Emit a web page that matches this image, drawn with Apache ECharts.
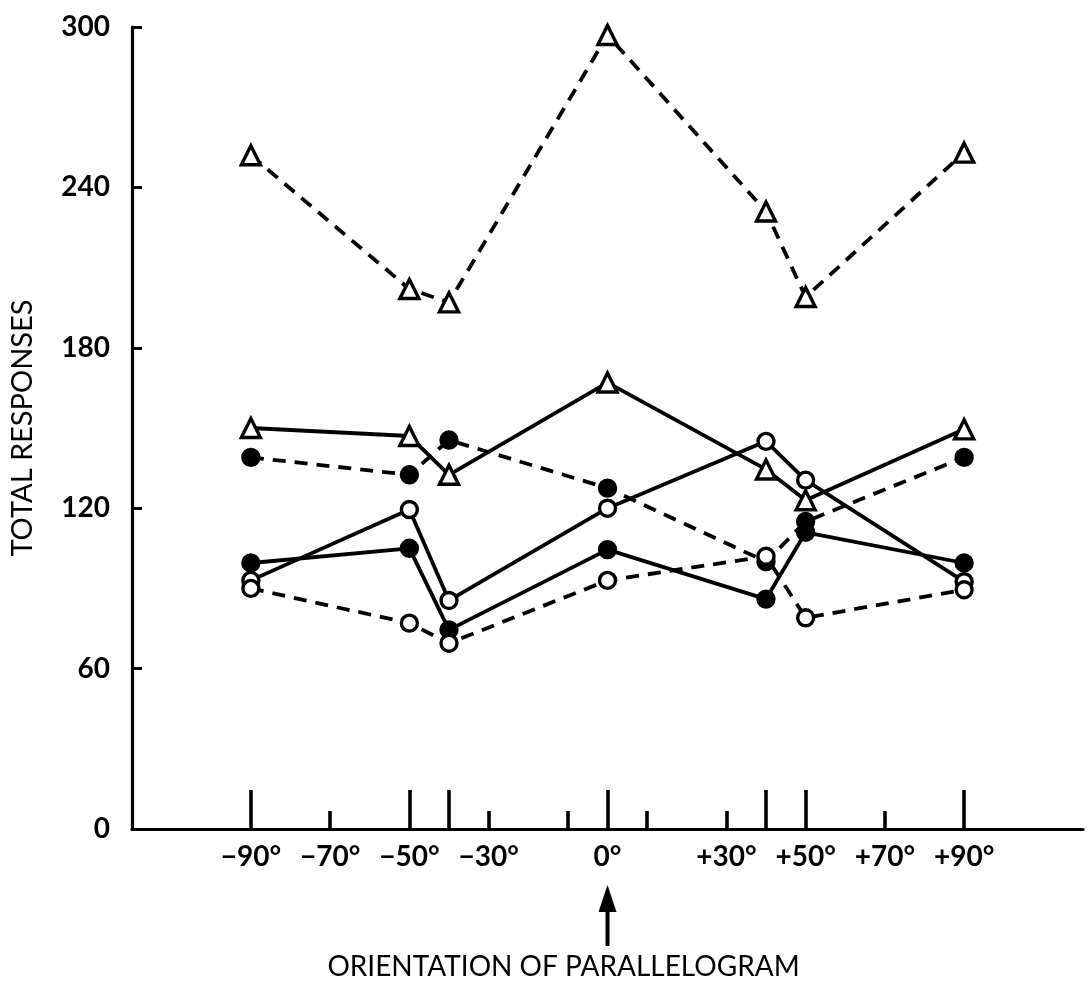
<!DOCTYPE html>
<html>
<head>
<meta charset="utf-8">
<script src="https://cdn.jsdelivr.net/npm/echarts@6/dist/echarts.min.js"></script>
<style>
  html, body { margin: 0; padding: 0; background: #fff; }
  #main { width: 1089px; height: 990px; }
</style>
</head>
<body>
<div id="main"></div>
<script>
// orientation of parallelogram (deg)
const angles = [-90, -50, -40, 0, 40, 50, 90];
// total responses
const triDashed = [252, 202, 197, 297, 231, 199, 253];
const triSolid = [150, 147, 132.5, 167, 134.5, 123, 149.5];
const dotDashed = [139, 132.5, 145.5, 127.5, 100, 115, 139];
const dotSolid = [99.5, 105, 74.5, 104.5, 86, 111, 99.5];
const ringSolid = [93, 119.5, 85.5, 120, 145, 130.5, 92.5];
const ringDashed = [90, 77, 69.5, 93, 102, 79, 89.5];

const longTicks = [-90, -50, -40, 0, 40, 50, 90];
const shortTicks = [-70, -30, -10, 10, 30, 70];
const xLabels = [-90, -70, -50, -30, 0, 30, 50, 70, 90];
const yTicks = [0, 60, 120, 180, 240, 300];

const pairs = (ys) => angles.map((a, i) => [a, ys[i]]);

function makeSeries(name, ys, symbol, filled, dashed) {
  return {
    name: name,
    type: 'line',
    data: pairs(ys),
    symbol: symbol,
    symbolSize: symbol === 'triangle' ? 19 : 16,
    showSymbol: true,
    lineStyle: {
      color: '#000',
      width: 3.8,
      type: dashed ? [13, 9] : 'solid',
    },
    itemStyle: {
      color: filled ? '#000' : '#fff',
      borderColor: '#000',
      borderWidth: 3.4,
    },
    z: 3,
    animation: false,
  };
}

const chart = echarts.init(document.getElementById('main'));
const labelFont = {
  color: '#000',
  fontSize: 28,
  fontWeight: 'bold',
  fontFamily: 'Lato',
};

const option = {
  backgroundColor: '#fff',
  animation: false,
  grid: {
    left: 130,
    right: 6,
    top: 27,
    bottom: 161,
  },
  xAxis: [
    {
      type: 'value',
      min: -120,
      max: 120,
      splitLine: { show: false },
      axisLine: { show: true, onZero: false, lineStyle: { color: '#000', width: 3.2 } },
      axisTick: {
        show: true,
        inside: true,
        length: 39,
        customValues: longTicks,
        lineStyle: { color: '#000', width: 3.6 },
      },
      axisLabel: {
        show: true,
        customValues: xLabels,
        margin: 14,
        formatter: (v) => (v > 0 ? '+' + v : v < 0 ? '\u2212' + (-v) : '' + v) + '°',
        ...labelFont,
      },
      name: 'ORIENTATION OF PARALLELOGRAM',
      nameLocation: 'middle',
      nameGap: 124,
      nameTextStyle: {
        color: '#000',
        fontSize: 28,
        fontFamily: 'Lato',
        padding: [0, 88, 0, 0],
      },
    },
    {
      type: 'value',
      min: -120,
      max: 120,
      position: 'bottom',
      splitLine: { show: false },
      axisLine: { show: false, onZero: false },
      axisTick: {
        show: true,
        inside: true,
        length: 18,
        customValues: shortTicks,
        lineStyle: { color: '#000', width: 3.6 },
      },
      axisLabel: { show: false },
    },
  ],
  yAxis: {
    type: 'value',
    min: 0,
    max: 300,
    interval: 60,
    splitLine: { show: false },
    axisLine: { show: true, onZero: false, lineStyle: { color: '#000', width: 3.2 } },
    axisTick: {
      show: true,
      inside: true,
      length: 10,
      customValues: yTicks,
      lineStyle: { color: '#000', width: 3 },
    },
    axisLabel: {
      margin: 22,
      ...labelFont,
    },
    name: 'TOTAL RESPONSES',
    nameLocation: 'middle',
    nameRotate: 90,
    nameGap: 95,
    nameTextStyle: {
      color: '#000',
      fontSize: 29,
      fontFamily: 'Lato',
    },
  },
  series: [
    makeSeries('tri dashed', triDashed, 'triangle', false, true),
    makeSeries('tri solid', triSolid, 'triangle', false, false),
    makeSeries('dot dashed', dotDashed, 'circle', true, true),
    makeSeries('dot solid', dotSolid, 'circle', true, false),
    makeSeries('ring solid', ringSolid, 'circle', false, false),
    makeSeries('ring dashed', ringDashed, 'circle', false, true),
  ],
};
chart.setOption(option);

// arrow under the 0° label
const base = chart.convertToPixel({ xAxisIndex: 0, yAxisIndex: 0 }, [0, 0]);
const ax = base[0];
const ay = base[1];
chart.setOption({
  graphic: [
    {
      type: 'line',
      shape: { x1: ax, y1: ay + 75, x2: ax, y2: ay + 117 },
      style: { stroke: '#000', lineWidth: 4 },
    },
    {
      type: 'polygon',
      shape: { points: [[ax, ay + 56], [ax - 9, ay + 83], [ax + 9, ay + 83]] },
      style: { fill: '#000' },
    },
  ],
});
</script>
</body>
</html>
